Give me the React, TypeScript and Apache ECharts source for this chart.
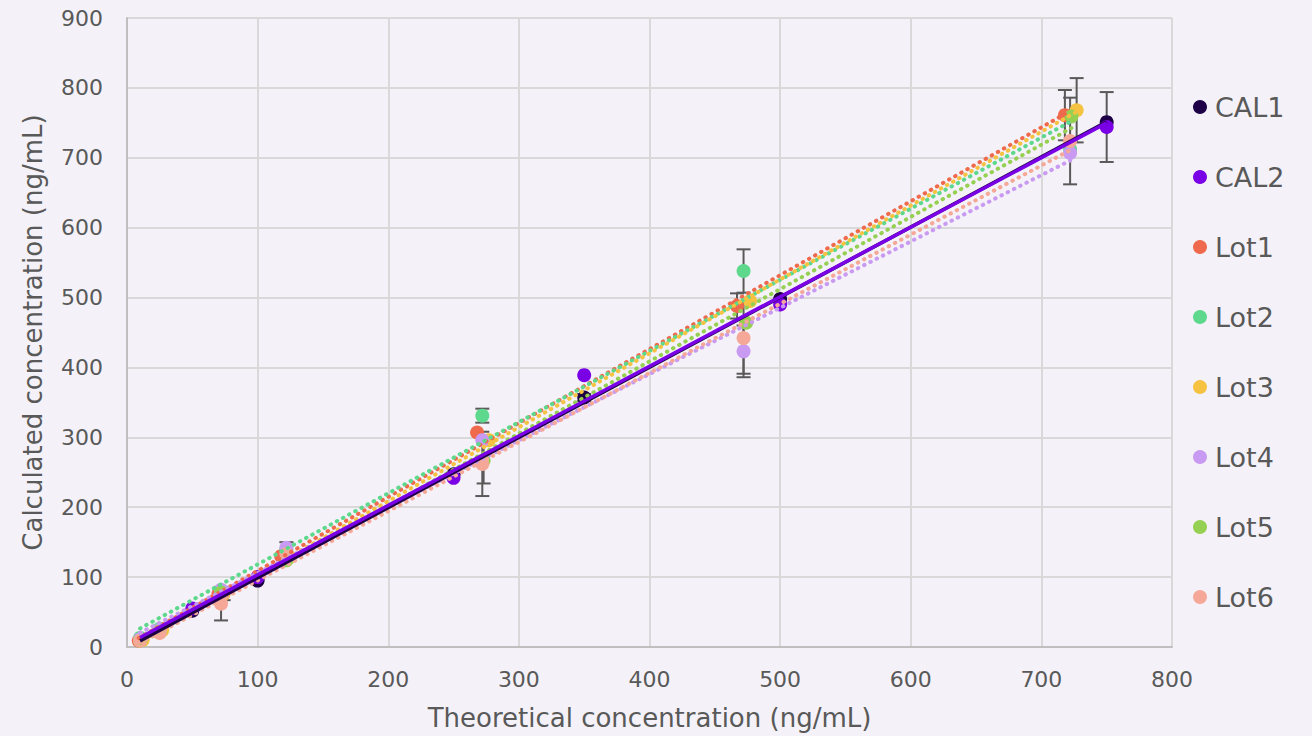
import React, { useEffect, useRef } from "react";
import * as echarts from "echarts";

const calX = [10, 25, 50, 100, 250, 350, 500, 750];
const cal1Y = [10, 22, 52, 95, 247, 357, 498, 751];
const cal2Y = [10, 24, 55, 100, 242, 389, 490, 744];
const cal1Err = [0, 0, 0, 0, 0, 5, 0, 0];
const cal2Err = [0, 0, 0, 0, 0, 0, 0, 50];

const lot1X = [9, 24, 70, 118, 268, 467, 718];
const lot1Y = [9, 22, 76, 130, 307, 488, 761];
const lot1Err = [0, 0, 0, 0, 0, 18, 36];

const lot2X = [10, 25, 72, 122, 272, 472, 722];
const lot2Y = [13, 26, 80, 140, 331, 538, 712];
const lot2Err = [0, 0, 0, 10, 10, 31, 0];

const lot3X = [12, 27, 74, 124, 277, 477, 727];
const lot3Y = [10, 24, 76, 128, 296, 495, 768];
const lot3Err = [0, 0, 9, 0, 0, 0, 46];

const lot4X = [10, 25, 72, 122, 272, 472, 722];
const lot4Y = [11, 24, 82, 142, 296, 423, 707];
const lot4Err = [0, 0, 0, 0, 0, 37, 0];

const lot5X = [10, 25, 72, 122, 273, 474, 723];
const lot5Y = [9, 22, 78, 124, 267, 464, 759];
const lot5Err = [0, 0, 0, 0, 33, 0, 0];

const lot6X = [10, 25, 72, 122, 272, 472, 722];
const lot6Y = [9, 20, 62, 133, 262, 442, 724];
const lot6Err = [0, 0, 24, 0, 46, 51, 62];

const seriesNames = ["CAL1", "CAL2", "Lot1", "Lot2", "Lot3", "Lot4", "Lot5", "Lot6"];
const seriesColors = ["#1E0046", "#7A00E6", "#EF6A4C", "#5DD88C", "#F6C242", "#C99AF2", "#95D052", "#F5A898"];

const xTicks = [0, 100, 200, 300, 400, 500, 600, 700, 800];
const yTicks = [0, 100, 200, 300, 400, 500, 600, 700, 800, 900];

const FONT = "'DejaVu Sans', Verdana, sans-serif";

function fit(xs: number[], ys: number[]) {
  const n = xs.length;
  let sx = 0, sy = 0, sxx = 0, sxy = 0;
  for (let i = 0; i < n; i++) {
    sx += xs[i]; sy += ys[i]; sxx += xs[i] * xs[i]; sxy += xs[i] * ys[i];
  }
  const b = (n * sxy - sx * sy) / (n * sxx - sx * sx);
  const a = (sy - b * sx) / n;
  const x0 = Math.min(...xs), x1 = Math.max(...xs);
  return [[x0, a + b * x0], [x1, a + b * x1]];
}

export default function App() {
  const ref = useRef<HTMLDivElement>(null);
  useEffect(() => {
    if (!ref.current) return;
    const chart = echarts.init(ref.current, null, { renderer: "svg" });
    const groups = [
      { x: calX, y: cal1Y, e: cal1Err },
      { x: calX, y: cal2Y, e: cal2Err },
      { x: lot1X, y: lot1Y, e: lot1Err },
      { x: lot2X, y: lot2Y, e: lot2Err },
      { x: lot3X, y: lot3Y, e: lot3Err },
      { x: lot4X, y: lot4Y, e: lot4Err },
      { x: lot5X, y: lot5Y, e: lot5Err },
      { x: lot6X, y: lot6Y, e: lot6Err },
    ];
    const errData: number[][] = [];
    groups.forEach((g) => g.x.forEach((xv, i) => { if (g.e[i] > 0) errData.push([xv, g.y[i], g.e[i]]); }));

    const scatterSeries = groups.map((g, k) => ({
      name: seriesNames[k],
      type: "scatter",
      symbol: "circle",
      symbolSize: 14,
      itemStyle: { color: seriesColors[k], opacity: 1 },
      data: g.x.map((xv, i) => [xv, g.y[i]]),
      z: 3,
    }));
    const trendSeries = groups.map((g, k) => ({
      name: seriesNames[k] + " trend",
      type: "line",
      data: fit(g.x, g.y),
      symbol: "none",
      silent: true,
      lineStyle: k < 2
        ? { color: seriesColors[k], width: 3.5, type: "solid" }
        : { color: seriesColors[k], width: 4, type: [0.5, 6.5], cap: "round" },
      z: k < 2 ? 5 : 4,
    }));
    const errSeries = {
      name: "errors",
      type: "custom",
      data: errData,
      encode: { x: 0, y: 1 },
      silent: true,
      z: 2,
      renderItem: (params: any, api: any) => {
        const x = api.value(0), y = api.value(1), e = api.value(2);
        const t = api.coord([x, y + e]);
        const b = api.coord([x, y - e]);
        const w = 7;
        const st = { stroke: "#595959", lineWidth: 2 };
        return {
          type: "group",
          children: [
            { type: "line", shape: { x1: t[0], y1: t[1], x2: b[0], y2: b[1] }, style: st },
            { type: "line", shape: { x1: t[0] - w, y1: t[1], x2: t[0] + w, y2: t[1] }, style: st },
            { type: "line", shape: { x1: b[0] - w, y1: b[1], x2: b[0] + w, y2: b[1] }, style: st },
          ],
        };
      },
    };

    chart.setOption({
      animation: false,
      backgroundColor: "#F4F2F8",
      textStyle: { fontFamily: FONT },
      grid: { left: 127, right: 140, top: 18, bottom: 87, containLabel: false },
      legend: {
        data: seriesNames,
        orient: "vertical",
        left: 1188,
        top: 87,
        icon: "circle",
        itemWidth: 14,
        itemHeight: 14,
        itemGap: 40,
        textStyle: { fontSize: 27, color: "#595959", fontFamily: FONT, lineHeight: 30, padding: [0, 0, 0, 3] },
      },
      xAxis: {
        type: "value",
        min: xTicks[0],
        max: xTicks[xTicks.length - 1],
        interval: 100,
        name: "Theoretical concentration (ng/mL)",
        nameLocation: "middle",
        nameGap: 58,
        nameTextStyle: { fontSize: 26, color: "#595959", fontFamily: FONT },
        axisLine: { show: true, lineStyle: { color: "#BFBFBF", width: 2 } },
        axisTick: { show: false },
        axisLabel: { fontSize: 22, color: "#595959", margin: 21, fontFamily: FONT },
        splitLine: { show: true, lineStyle: { color: "#D9D9D9", width: 2 } },
      },
      yAxis: {
        type: "value",
        min: yTicks[0],
        max: yTicks[yTicks.length - 1],
        interval: 100,
        name: "Calculated concentration (ng/mL)",
        nameLocation: "middle",
        nameGap: 81,
        nameTextStyle: { fontSize: 26, color: "#595959", fontFamily: FONT },
        axisLine: { show: true, lineStyle: { color: "#BFBFBF", width: 2 } },
        axisTick: { show: false },
        axisLabel: { fontSize: 22, color: "#595959", margin: 24, fontFamily: FONT },
        splitLine: { show: true, lineStyle: { color: "#D9D9D9", width: 2 } },
      },
      series: [errSeries, ...scatterSeries, ...trendSeries],
    } as any);
    return () => chart.dispose();
  }, []);
  return <div ref={ref} style={{ position: "fixed", left: 0, top: 0, width: 1312, height: 736 }} />;
}
